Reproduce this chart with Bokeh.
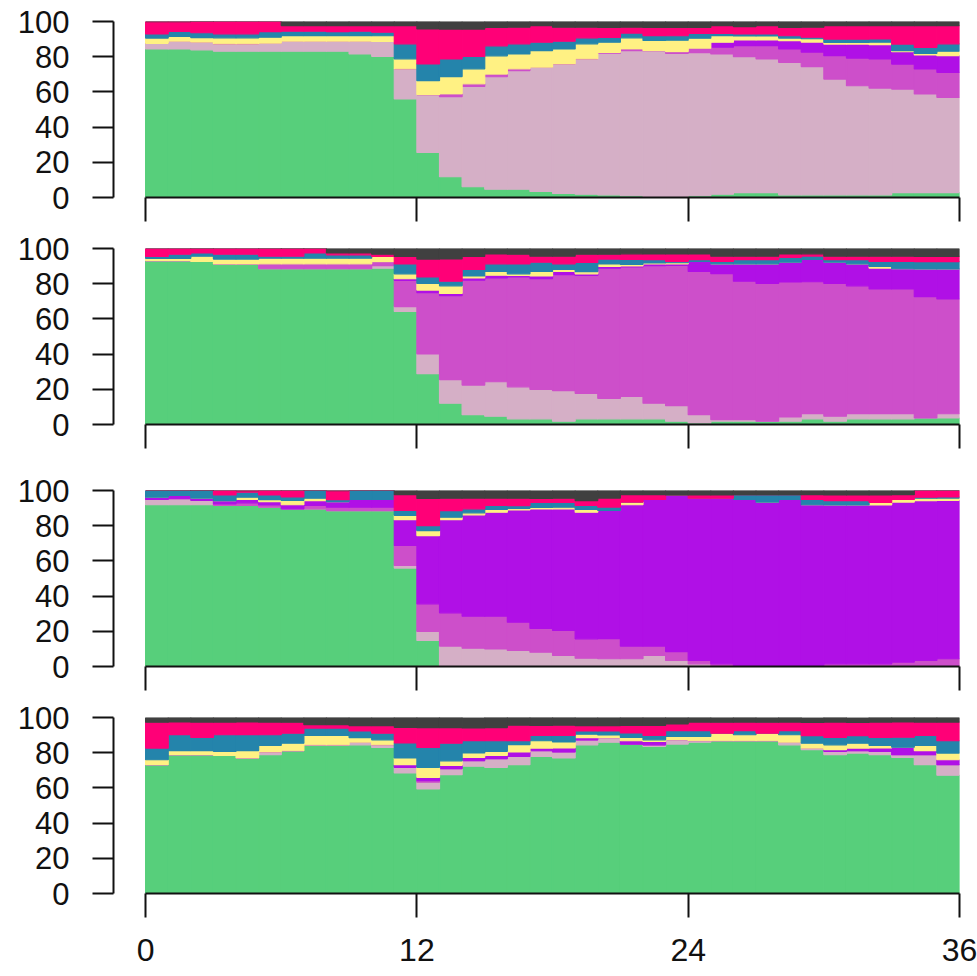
from bokeh.plotting import figure
from bokeh.models import Range1d, FixedTicker, ColumnDataSource
from bokeh.layouts import column
from bokeh.embed import file_html
from bokeh.resources import INLINE

# ---------------- data ----------------
hours = list(range(36))          # start hour of each 1-h step
x_ticks = [0, 12, 24, 36]
y_ticks = [0, 20, 40, 60, 80, 100]
layer_names = ["green", "thistle", "orchid", "purple", "yellow", "blue", "red", "gray"]
layer_colors = ["#57CF7B", "#D5AFC6", "#CD4FCA", "#B010E6", "#FFF183", "#2484AB", "#FF0077", "#404040"]

# panel 1
p1_green = [84.4, 84.4, 83.9, 83.1, 83.1, 83.1, 83.1, 83.1, 83.1, 81.6, 80.2, 56, 25.6, 11.8, 6.1, 4.7, 4.7, 3.4,
            2.3, 1.9, 1.5, 1, 0.6, 0.6, 1, 1.9, 2.8, 2.8, 1.5, 1.5, 1.5, 1.5, 1.5, 2.8, 2.8, 2.8]
p1_thistle = [3.2, 4.4, 4.4, 4.2, 4.2, 4.6, 5.7, 5.7, 5.7, 7.2, 8.5, 17.1, 32.8, 45.5, 57, 63.9, 67.4, 70.6,
              73.6, 76.9, 80.5, 82.5, 82.9, 81.3, 81.3, 79.7, 77.2, 75.9, 75.3, 72.9, 65.8, 62, 60.7, 58.8, 56, 54.1]
p1_orchid = [0, 0, 0, 0, 0, 0, 0, 0, 0, 0, 0, 0, 0, 1.5, 1.5, 1.5, 1, 0,
             0, 0, 0.5, 0.9, 0, 1, 2.5, 3.8, 6.3, 7.6, 7.6, 8.2, 13.3, 15.7, 16.5, 14.2, 14.2, 14.2]
p1_purple = [0, 0, 0, 0, 0, 0, 0, 0, 0, 0, 0, 0, 0, 0, 0, 0, 0, 0,
             0, 0, 0, 0, 0, 0, 0, 2.8, 3.2, 3.2, 4.7, 5.7, 6.6, 8, 8.2, 7, 8, 9.5]
p1_yellow = [3, 2.8, 2.5, 3.4, 3.4, 3.4, 3.2, 3.2, 3.2, 3.2, 3.2, 5.7, 8, 9.9, 8.5, 10.4, 8.5, 9.5,
             8.5, 8.5, 5.7, 6.3, 5.7, 6.5, 5.7, 3.8, 2.3, 2.3, 1.5, 1.9, 0.9, 0.9, 1.3, 0.6, 0.9, 2.5]
p1_blue = [2.3, 2.8, 2.8, 2.3, 2.3, 3.2, 2.5, 2.5, 2.3, 2.5, 2, 8.5, 9.5, 10, 7, 5.7, 5.7, 4.7,
           4.4, 3.4, 2.8, 2.7, 2.8, 2.5, 2.7, 1.3, 1.1, 1.1, 1.3, 0.9, 1.9, 1.9, 1.9, 3.8, 3.4, 4.2]
p1_red = [7, 5.5, 6.5, 7, 7, 5.7, 3.2, 3.2, 3.4, 3.2, 3.8, 10.4, 19.9, 17, 15.6, 10.4, 9.5, 9.5,
          8, 6.1, 5.7, 3.4, 4.7, 4.7, 3.4, 4.4, 4.2, 4.7, 4.7, 5.7, 7.6, 7.6, 7.6, 10.4, 12.3, 10.4]
p1_gray = [0, 0, 0, 0, 0, 0, 2.3, 2.3, 2.3, 2.3, 2.3, 2.3, 4.2, 4.2, 4.2, 3.4, 3.4, 2.5,
           3.4, 3.4, 3.4, 3.4, 3.4, 3.4, 3.4, 2.5, 3, 2.5, 3.4, 3.4, 2.5, 2.5, 2.5, 2.5, 2.5, 2.5]

# panel 2
p2_green = [93.1, 93.1, 92.6, 91.2, 91.2, 88.5, 88.5, 88.5, 88.5, 88.5, 88.8, 64.2, 28.9, 12.1, 5.6, 4.7, 3.2, 3.2,
            1.9, 3.2, 3.2, 3.2, 3.2, 1.9, 0.9, 1.9, 1.9, 1.9, 1.9, 3.2, 1.9, 3.2, 3.2, 3.2, 3.7, 3.7]
p2_thistle = [0, 0, 0, 0, 0, 0, 0, 0, 0, 0, 1.5, 2.8, 11.2, 13.4, 16.8, 19.6, 18.2, 16.8,
              17.3, 14.5, 11.7, 12.7, 8.9, 8.8, 4.7, 0.9, 0.9, 0, 2.4, 3, 2.8, 3, 3, 3, 0, 2.4]
p2_orchid = [0, 0, 0, 0, 0, 2.8, 2.8, 2.8, 2.8, 2.8, 2.2, 14.9, 34.8, 47.7, 59.6, 59, 62.4, 62.9,
             65.9, 67, 73.9, 73.6, 78.2, 79.7, 81.4, 82.9, 78.6, 78.2, 76.7, 74.9, 75.4, 72.6, 70.8, 70.8, 68.9, 65.2]
p2_purple = [0, 0, 0, 0, 0, 0, 0, 0, 0, 0, 0, 0.9, 1.5, 1.3, 1.3, 1.5, 0.9, 1.5,
             1.9, 0.9, 1.1, 0.6, 0.9, 0.9, 5.6, 5.6, 9.9, 11.2, 11.2, 12.7, 12.1, 12.5, 11.9, 11.5, 15.8, 17.1]
p2_yellow = [1.3, 1.3, 3, 2.8, 2.8, 3.2, 3.2, 3.2, 3.2, 3.2, 3, 2.8, 3.7, 4.3, 1.1, 2.2, 0.9, 2.6,
             1.1, 1.3, 1.3, 0.9, 0.6, 0.6, 0, 0, 0, 0, 0, 0, 0, 0, 0.9, 0, 0, 0]
p2_blue = [1.1, 2.4, 1.9, 2.8, 2.8, 1.1, 1.1, 3, 1.9, 1.9, 0, 5.6, 3.7, 2.6, 3.7, 4.3, 5.6, 5.2,
           3.2, 5.2, 2.8, 2.8, 1.9, 0.7, 1.1, 1.3, 2.4, 2.4, 2.8, 1.9, 1.5, 2.4, 2.8, 4.1, 4.1, 4.1]
p2_red = [4.5, 3.2, 2.6, 3.2, 3.2, 4.5, 4.5, 2.6, 1.1, 1.1, 1.3, 4.3, 10.2, 12.7, 7.4, 5.6, 5.6, 3.4,
          4.3, 4.7, 2.8, 3.2, 3.2, 4.3, 3.2, 3, 1.9, 1.9, 1.9, 1.3, 1.9, 1.9, 3, 3, 3, 3]
p2_gray = [0, 0, 0, 0, 0, 0, 0, 0, 2.6, 2.6, 3.2, 4.5, 6, 6, 4.5, 3.2, 3.2, 4.5,
           4.5, 3.2, 3.2, 3.2, 3.2, 3.2, 3.2, 4.5, 4.5, 4.5, 3.2, 3.2, 4.5, 4.5, 4.5, 4.5, 4.5, 4.5]

# panel 3
p3_green = [91.9, 91.9, 91.9, 91.5, 91.5, 90.5, 89.6, 89.6, 88.6, 88.6, 88.6, 55.9, 14.8, 0, 0, 0, 0, 0,
            0, 0, 0, 0, 0, 0, 0, 0, 0, 0, 0, 0, 0, 0, 0, 0, 0, 0]
p3_thistle = [3, 3.4, 2.5, 0, 0, 0, 0, 0, 0, 0, 0, 1.5, 5.1, 11.6, 10.4, 10, 9.1, 8.1,
              6.3, 4.7, 4.4, 4.4, 6.3, 3.4, 1.5, 0.6, 0, 0, 0, 0, 0, 0, 0, 0, 0, 0]
p3_orchid = [0, 0, 0, 0.9, 1.5, 1.3, 0, 1.9, 1.9, 1.9, 1.9, 11.4, 15.7, 18.9, 18.2, 18.6, 16.1, 13.6,
             14.2, 11, 11.4, 7.2, 5.3, 5.1, 1.9, 0.9, 0, 0, 0, 0.6, 1.5, 1.5, 1.5, 2.5, 3.4, 4.4]
p3_purple = [1.3, 1.9, 1.3, 1.9, 1.9, 1.9, 2.3, 2.8, 3.2, 4.4, 4.4, 14.6, 38.8, 53, 57.6, 59.1, 63.8, 67.8,
             69.1, 72, 72.9, 80.3, 83.3, 89, 92.2, 94.1, 94.9, 93.4, 94.9, 91.3, 90.3, 90.3, 90.3, 90.9, 90.9, 90]
p3_yellow = [0, 0, 0, 0, 1.3, 1.1, 2.5, 1.3, 0, 0, 0, 2.5, 2.8, 1.3, 1.1, 1.5, 0.9, 0.9,
             0.9, 1.5, 0, 1.5, 0, 0, 0, 0, 0, 0, 0, 0, 0, 0, 1.5, 1.5, 1.3, 1.3]
p3_blue = [3.8, 2.8, 4.4, 3.2, 2.8, 2.7, 1.9, 4.4, 1.1, 5.1, 5.1, 2.8, 2.8, 3.8, 2.3, 2.3, 1.5, 2.8,
           2.8, 2.3, 1.9, 0, 0, 0, 0, 0, 2.7, 4.2, 2.7, 3, 2.5, 2.5, 0, 0, 0.6, 0.6]
p3_red = [0, 0, 0, 2.5, 0.9, 2.5, 3.8, 0, 5.1, 0, 0, 8.9, 15.5, 7, 6.1, 4.2, 4.2, 2.3,
          2.3, 2.8, 5.1, 4.2, 2.7, 0, 1.9, 1.9, 0, 0, 0, 2.7, 3.2, 3.2, 4.2, 2.7, 3.8, 3.8]
p3_gray = [0, 0, 0, 0, 0, 0, 0, 0, 0, 0, 0, 2.5, 4.4, 4.4, 4.4, 4.4, 4.4, 4.4,
           4.4, 5.7, 4.4, 2.5, 2.5, 2.5, 2.5, 2.5, 2.5, 2.5, 2.5, 2.5, 2.5, 2.5, 2.5, 2.5, 0, 0]

# panel 4
p4_green = [73.2, 78.9, 78.9, 78.5, 77, 78.9, 81.1, 84.5, 84.5, 84.5, 83, 68.5, 59.4, 67.5, 72.3, 71.7, 73.2, 77.9,
            77, 84.5, 86, 84.9, 83.6, 84.9, 86, 86.8, 86.8, 86.8, 84.5, 81.7, 78.9, 79.8, 78.9, 77.4, 73.2, 67.2]
p4_thistle = [0, 0, 0, 0, 0, 1.5, 0, 0, 0, 1.5, 1.5, 3.2, 3.8, 3.4, 3.2, 4.9, 4.7, 3.2,
              3.4, 2.8, 2.6, 0, 0.9, 2.5, 0.8, 0, 0, 0, 1.5, 0.9, 1.9, 1.3, 1.9, 1.5, 5.7, 6]
p4_orchid = [0, 0, 0, 0, 0, 0, 0, 0, 0, 0, 0, 0, 0.9, 0, 0, 0, 0, 0,
             0, 0, 0, 0, 0, 0, 0, 0, 0, 0, 0, 0, 0, 0, 0, 0, 0, 0]
p4_purple = [0, 0, 0, 0, 0, 0, 0, 0, 0, 0, 0, 1.5, 1.9, 1.9, 1.9, 1.9, 2.5, 1.5,
             2.3, 1.3, 0, 1.9, 1.9, 0, 0, 0, 0, 0, 0, 0, 0.9, 1.5, 1.9, 4.2, 2.3, 2.8]
p4_yellow = [2.8, 2.3, 2.3, 2.3, 4.2, 3.8, 4.3, 5.3, 5.3, 2.6, 2.8, 3.8, 5.7, 2.6, 2.5, 2.3, 4.2, 4.2,
             3.4, 1.9, 1.5, 1.9, 0.9, 1.9, 2.5, 4.3, 3.4, 4.3, 4.2, 2.8, 2.8, 2.8, 1.5, 0, 3, 3.8]
p4_blue = [6.6, 9.1, 7.5, 9.4, 9.1, 6, 5.7, 4.2, 4.2, 3.8, 3.8, 8.5, 11.3, 10, 7, 6, 2.3, 3,
           3.8, 1.9, 2.3, 2.5, 2.5, 3.2, 3.2, 0, 2.3, 0, 2.3, 4.3, 4.2, 4.3, 4.5, 5.7, 5.7, 7]
p4_red = [14.7, 7.2, 8.7, 7.2, 7.2, 7.2, 6.2, 1.9, 1.9, 3, 4.3, 8.9, 11.3, 8.9, 7.2, 7.5, 8.7, 5.7,
          5.7, 3, 3, 4.3, 5.7, 3.8, 4.9, 6.2, 4.9, 6.2, 4.9, 7.5, 8.7, 7.5, 8.7, 8.7, 7.5, 10.6]
p4_gray = [2.6, 2.6, 2.6, 2.6, 2.6, 2.6, 2.6, 4.2, 4.2, 4.5, 4.5, 5.7, 5.7, 5.7, 5.7, 5.7, 4.5, 4.5,
           4.5, 4.5, 4.5, 4.5, 4.5, 3.8, 2.6, 2.6, 2.6, 2.6, 2.6, 2.6, 2.6, 2.6, 2.6, 2.6, 2.6, 2.6]

panels = [
    [p1_green, p1_thistle, p1_orchid, p1_purple, p1_yellow, p1_blue, p1_red, p1_gray],
    [p2_green, p2_thistle, p2_orchid, p2_purple, p2_yellow, p2_blue, p2_red, p2_gray],
    [p3_green, p3_thistle, p3_orchid, p3_purple, p3_yellow, p3_blue, p3_red, p3_gray],
    [p4_green, p4_thistle, p4_orchid, p4_purple, p4_yellow, p4_blue, p4_red, p4_gray],
]

# ---------------- layout / style ----------------
FONT = "Liberation Sans"
INK = "#111111"
# (figure height, top border, bottom border) per panel; every frame is 176 px tall
sizes = [(229, 21, 32), (242, 19, 47), (227, 19, 32), (278, 19, 83)]


def make_panel(layers, height, border_top, border_bottom, show_x_labels):
    data = {"x": [h + 0.5 for h in hours]}
    data.update(dict(zip(layer_names, layers)))
    src = ColumnDataSource(data)
    p = figure(width=977, height=height,
               x_range=Range1d(-1.42, 36), y_range=Range1d(0, 100),
               output_backend="svg", toolbar_location=None,
               min_border_left=113, min_border_right=18,
               min_border_top=border_top, min_border_bottom=border_bottom)
    p.vbar_stack(layer_names, x="x", width=1.0, color=layer_colors,
                 line_width=1.2, source=src)
    p.grid.visible = False
    p.outline_line_color = None
    p.background_fill_color = "white"
    p.border_fill_color = "white"

    xa = p.xaxis[0]
    xa.bounds = (0, 36)
    xa.axis_line_width = 2
    xa.axis_line_color = INK
    xa.major_tick_line_width = 2
    xa.major_tick_line_color = INK
    xa.minor_tick_line_width = 2
    xa.minor_tick_line_color = INK
    xa.major_tick_in = 0
    xa.minor_tick_in = 0
    if show_x_labels:
        xa.ticker = FixedTicker(ticks=x_ticks)
        xa.major_tick_out = 24
        xa.minor_tick_out = 0
        xa.major_label_text_font = FONT
        xa.major_label_text_font_size = "32px"
        xa.major_label_text_color = INK
        xa.major_label_standoff = 21
    else:
        # ticks only, no labels: the hour ticks are drawn as minor ticks
        xa.ticker = FixedTicker(ticks=[], minor_ticks=x_ticks)
        xa.major_tick_out = 0
        xa.minor_tick_out = 24
        xa.major_label_standoff = 0

    ya = p.yaxis[0]
    ya.ticker = FixedTicker(ticks=y_ticks)
    ya.bounds = (0, 100)
    ya.axis_line_width = 2
    ya.axis_line_color = INK
    ya.major_tick_line_width = 2
    ya.major_tick_line_color = INK
    ya.major_tick_out = 21
    ya.major_tick_in = 0
    ya.minor_tick_out = 0
    ya.minor_tick_in = 0
    ya.major_label_text_font = FONT
    ya.major_label_text_font_size = "31px"
    ya.major_label_text_color = INK
    ya.major_label_standoff = 23
    return p


figs = []
for i, layers in enumerate(panels):
    h, bt, bb = sizes[i]
    figs.append(make_panel(layers, h, bt, bb, i == len(panels) - 1))

layout = column(*figs, spacing=0)
open("out.html", "w").write(file_html(layout, INLINE))
